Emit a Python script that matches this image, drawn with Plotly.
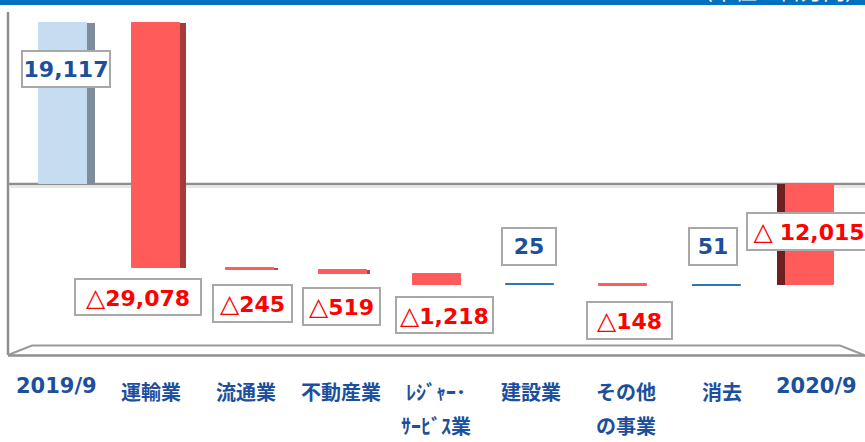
import plotly.graph_objects as go

# ---------------- data ----------------
categories = ["2019/9", "運輸業", "流通業", "不動産業", "ﾚｼﾞｬｰ･<br>ｻｰﾋﾞｽ業",
              "建設業", "その他<br>の事業", "消去", "2020/9"]
start_value = 19117
changes = [-29078, -245, -519, -1218, 25, -148, 51]
end_value = -12015
value_labels = ["19,117", "△29,078", "△245", "△519", "△1,218", "25", "△148", "51", "△ 12,015"]
unit_label = "（単位：百万円）"

# ---------------- waterfall geometry from data ----------------
bases, heights = [0], [start_value]
running = start_value
for d in changes:
    bases.append(running)
    heights.append(d)
    running += d
bases.append(0)
heights.append(end_value)

# ---------------- styles ----------------
W, H = 865, 442
PX_X = 93.4              # px per category
PX_Y = 161 / 19117.0     # px per unit
X0 = -63 / PX_X
X1 = X0 + W / PX_X
Y_TOP = 184 / PX_Y
Y_BOT = Y_TOP - H / PX_Y

front_w = 48 / PX_X
front_colors = ["#c5dcf1", "#ff5b5b", "#ff5b5b", "#ff5b5b", "#ff5b5b",
                "#2e75b6", "#ff5b5b", "#2e75b6", "#ff5b5b"]
side_px = [8, 6, 4, 3, 0, 0, 0, 0, 9]
side_right = [True, True, True, True, True, False, False, False, False]
side_colors = ["#7f8c9b", "#a83a3a", "#b84040", "#b84040", "#b84040",
               "#1f4e79", "#b84040", "#1f4e79", "#6e1f1f"]

BLUE_TXT = "#1c4f9c"
RED_TXT = "#ff0000"
label_colors = [BLUE_TXT, RED_TXT, RED_TXT, RED_TXT, RED_TXT, BLUE_TXT, RED_TXT, BLUE_TXT, RED_TXT]
label_dx = [3, -18, 2.5, -1.5, 7.5, -1, 6.5, -4, -1]
label_dy = [-46, -29, -33.5, -32, -30.5, 38, -35, 38.7, 53.7]
label_w = [90, 128, 81, 79, 99, 56, 87, 50, 126]
label_h = [38, 38, 39, 39, 38, 39, 39, 39, 39]

cat_dx = [-7, -5, -4, -2, -1, 1, 3, 5, 6]

fig = go.Figure()

side_w = [p / PX_X for p in side_px]
side_off = [front_w / 2 if r else -front_w / 2 - sw for r, sw in zip(side_right, side_w)]
fig.add_trace(go.Bar(
    x=list(range(len(categories))), y=heights, base=bases,
    width=side_w, offset=side_off,
    marker=dict(color=side_colors, line=dict(width=0)),
    hoverinfo="skip", showlegend=False))
fig.add_trace(go.Bar(
    x=list(range(len(categories))), y=heights, base=bases,
    width=front_w, offset=-front_w / 2,
    marker=dict(color=front_colors, line=dict(width=1, color=front_colors)),
    hoverinfo="skip", showlegend=False))

def px2x(px):
    return X0 + px / PX_X

def py2y(py):
    return Y_TOP - py / PX_Y

grey = "#8f8f8f"
shapes = [
    # header band
    dict(type="rect", xref="paper", yref="paper", x0=0, x1=1, y0=1 - 5 / H, y1=1,
         fillcolor="#0070c0", line=dict(width=0), layer="above"),
    # left wall
    dict(type="line", xref="x", yref="y", x0=px2x(8), x1=px2x(8), y0=py2y(12), y1=py2y(355),
         line=dict(color=grey, width=2.5), layer="below"),
    # zero plane
    dict(type="line", xref="x", yref="y", x0=px2x(8), x1=px2x(W + 5), y0=0, y1=0,
         line=dict(color=grey, width=2.5), layer="below"),
    dict(type="line", xref="x", yref="y", x0=px2x(10), x1=px2x(W + 5), y0=py2y(187), y1=py2y(187),
         line=dict(color="#d0d0d0", width=1), layer="below"),
    # floor
    dict(type="path", xref="x", yref="y",
         path="M {a},{b} L {c},{d} L {e},{d} L {f},{b}".format(
             a=px2x(8), b=py2y(355), c=px2x(32), d=py2y(345.5), e=px2x(840), f=px2x(864)),
         line=dict(color="#9a9a9a", width=2), layer="below"),
    dict(type="line", xref="x", yref="y", x0=px2x(8), x1=px2x(W + 5), y0=py2y(355.5), y1=py2y(355.5),
         line=dict(color=grey, width=2.5), layer="below"),
]

annotations = []
for i, txt in enumerate(value_labels):
    top = max(bases[i], bases[i] + heights[i])
    bottom = min(bases[i], bases[i] + heights[i])
    if i == 0:
        anchor = top
    elif i == len(value_labels) - 1:
        anchor = bottom
    else:
        anchor = top if heights[i] > 0 else bottom
    if txt.startswith("△"):
        rest = txt[1:]
        t = ("<span style='font-size:25px'>△</span>" + ("&nbsp;" if rest.startswith(" ") else "")
             + "<b>" + rest.strip() + "</b>")
    else:
        t = "<b>" + txt + "</b>"
    annotations.append(dict(
        x=i, y=anchor, xref="x", yref="y", text=t, showarrow=False,
        xshift=label_dx[i], yshift=label_dy[i],
        xanchor="center", yanchor="middle",
        width=label_w[i] - 4, height=label_h[i] - 4,
        bgcolor="white", bordercolor="#a8a8a8", borderwidth=2, borderpad=0,
        font=dict(family="DejaVu Sans", size=22, color=label_colors[i])))

for i, cat in enumerate(categories):
    lines = cat.split("<br>")
    is_date = "/" in cat
    for j, line in enumerate(lines):
        font = dict(family="DejaVu Sans" if is_date else "Noto Sans CJK JP",
                    size=21 if is_date else 20, color=BLUE_TXT)
        if j == 0:
            py = 386 if is_date else 391
            annotations.append(dict(
                x=i, y=1 - py / H, xref="x", yref="paper", text="<b>" + line + "</b>",
                showarrow=False, xshift=cat_dx[i], xanchor="center", yanchor="middle", font=font))
        else:
            annotations.append(dict(
                x=i, y=0, xref="x", yref="paper", text="<b>" + line + "</b>",
                showarrow=False, xshift=cat_dx[i], xanchor="center", yanchor="bottom",
                yshift=0, font=font))

annotations.append(dict(
    x=779 / W, y=1, xref="paper", yref="paper", text=unit_label, showarrow=False,
    xanchor="center", yanchor="bottom", yshift=-7,
    font=dict(family="Noto Sans CJK JP", size=22, color="white")))

fig.update_layout(
    width=W, height=H, margin=dict(l=0, r=0, t=0, b=0, pad=0),
    paper_bgcolor="white", plot_bgcolor="white",
    barmode="overlay", bargap=0,
    xaxis=dict(range=[X0, X1], visible=False, showgrid=False, zeroline=False, fixedrange=True),
    yaxis=dict(range=[Y_BOT, Y_TOP], visible=False, showgrid=False, zeroline=False, fixedrange=True),
    shapes=shapes, annotations=annotations, showlegend=False)

fig.write_html("out.html", config={"displayModeBar": False},
               post_script="document.body.style.margin='0';document.body.style.overflow='hidden';")
